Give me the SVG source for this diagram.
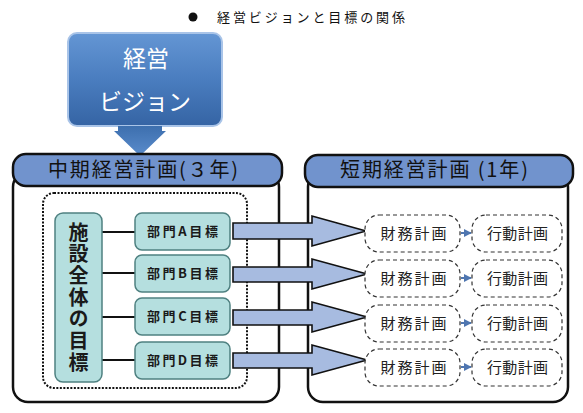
<svg xmlns="http://www.w3.org/2000/svg" width="583" height="413" viewBox="0 0 583 413">
<defs>
<linearGradient id="gv" x1="0" y1="0" x2="0" y2="1">
<stop offset="0" stop-color="#6496d4"/>
<stop offset="0.5" stop-color="#4a7dbf"/>
<stop offset="1" stop-color="#3564a4"/>
</linearGradient>
<linearGradient id="ga" x1="0" y1="0" x2="0" y2="1">
<stop offset="0" stop-color="#3d6fae"/>
<stop offset="1" stop-color="#5a8ccc"/>
</linearGradient>
<marker id="sm" viewBox="0 0 10 10" refX="9" refY="5" markerWidth="4" markerHeight="4" orient="auto">
<path d="M0,0 L10,5 L0,10 z" fill="#4f76b0"/>
</marker>
<style>
text{font-family:"Noto Sans CJK JP","Noto Sans",sans-serif;}
.hdr{fill:#7193cd;stroke:#111;stroke-width:2.5;}
.outer{fill:#fff;stroke:#111;stroke-width:2.5;}
.dept{fill:#b5dfdf;stroke:#4f8181;stroke-width:1.5;}
.dtxt{font-size:13px;font-weight:bold;fill:#1a1a1a;text-anchor:middle;}
.big{fill:#a7bbe0;stroke:#111;stroke-width:1.6;stroke-linejoin:miter;}
.plan{fill:#fff;stroke:#333;stroke-width:1.2;stroke-dasharray:4 3;}
.ptxt{font-size:15px;fill:#222;text-anchor:middle;}
.link{stroke:#111;stroke-width:2;}
.sarr{stroke:#4f76b0;stroke-width:2;marker-end:url(#sm);}
</style>
</defs>
<rect width="583" height="413" fill="#fff"/>

<g id="title">
<circle cx="193" cy="17" r="4.5" fill="#111"/>
<text x="217" y="22" font-size="13" fill="#111" textLength="188" lengthAdjust="spacing">経営ビジョンと目標の関係</text>
</g>

<g id="vision">
<rect x="68" y="33" width="154" height="93" rx="9" fill="url(#gv)" stroke="#a9c4e8" stroke-width="2"/>
<text x="146" y="67" font-size="23" fill="#fff" text-anchor="middle">経営</text>
<text x="145" y="110" font-size="23" fill="#fff" text-anchor="middle">ビジョン</text>
</g>

<g id="vision-arrow">
<polygon points="118,126 162,126 162,131 166,131 140,156 114,131 118,131" fill="url(#ga)"/>
</g>

<g id="mid-plan">
<rect class="outer" x="13" y="172" width="266" height="230" rx="15"/>
<rect class="hdr" x="13" y="154" width="269" height="32" rx="13"/>
<text x="48" y="177" font-size="20" fill="#111" textLength="190" lengthAdjust="spacing">中期経営計画(３年)</text>
</g>

<g id="short-plan">
<rect class="outer" x="308" y="172" width="260" height="230" rx="15"/>
<rect class="hdr" x="305" y="155" width="268" height="32" rx="13"/>
<text x="340" y="177" font-size="20" fill="#111" textLength="188" lengthAdjust="spacing">短期経営計画 (1年)</text>
</g>

<g id="dotted-frame">
<rect x="43" y="193" width="204" height="195" rx="11" fill="none" stroke="#111" stroke-width="2" stroke-dasharray="2 1.5"/>
</g>

<g id="connectors">
<line class="link" x1="102" y1="232" x2="135" y2="232"/>
<line class="link" x1="102" y1="273" x2="135" y2="273"/>
<line class="link" x1="102" y1="317" x2="135" y2="317"/>
<line class="link" x1="102" y1="360" x2="135" y2="360"/>
<polygon class="big" points="233,223 312,223 312,216 366,231 312,246 312,239 233,239"/>
<polygon class="big" points="233,267 312,267 312,259 367,274 312,289 312,282 233,282"/>
<polygon class="big" points="233,310 312,310 312,302 367,317 312,332 312,325 233,325"/>
<polygon class="big" points="233,353 312,353 312,345 367,360 312,375 312,368 233,368"/>
<line class="sarr" x1="461" y1="233" x2="471" y2="233"/>
<line class="sarr" x1="461" y1="278" x2="471" y2="278"/>
<line class="sarr" x1="461" y1="323" x2="471" y2="323"/>
<line class="sarr" x1="461" y1="367" x2="471" y2="367"/>
</g>

<g id="goal">
<rect class="dept" x="55" y="213" width="47" height="169" rx="8"/>
<text x="78.5" y="222" font-size="20" font-weight="bold" fill="#1a1a1a" writing-mode="vertical-rl" letter-spacing="1.7">施設全体の目標</text>
</g>

<g id="deptA"><rect class="dept" x="135" y="213" width="95" height="37" rx="7"/><text class="dtxt" x="182.5" y="236" textLength="71" lengthAdjust="spacing">部門A目標</text></g>
<g id="deptB"><rect class="dept" x="135" y="255" width="95" height="37" rx="7"/><text class="dtxt" x="182.5" y="278" textLength="71" lengthAdjust="spacing">部門B目標</text></g>
<g id="deptC"><rect class="dept" x="135" y="298" width="95" height="37" rx="7"/><text class="dtxt" x="182.5" y="321" textLength="71" lengthAdjust="spacing">部門C目標</text></g>
<g id="deptD"><rect class="dept" x="135" y="342" width="95" height="37" rx="7"/><text class="dtxt" x="182.5" y="365" textLength="71" lengthAdjust="spacing">部門D目標</text></g>

<g id="fin1"><rect class="plan" x="365" y="215" width="95" height="37" rx="14"/><text class="ptxt" x="413.5" y="238.5" textLength="66" lengthAdjust="spacing">財務計画</text></g>
<g id="act1"><rect class="plan" x="472" y="215" width="90" height="37" rx="14"/><text class="ptxt" x="517.5" y="238.5" textLength="61" lengthAdjust="spacing">行動計画</text></g>
<g id="fin2"><rect class="plan" x="365" y="260" width="95" height="37" rx="14"/><text class="ptxt" x="413.5" y="283.5" textLength="66" lengthAdjust="spacing">財務計画</text></g>
<g id="act2"><rect class="plan" x="472" y="260" width="90" height="37" rx="14"/><text class="ptxt" x="517.5" y="283.5" textLength="61" lengthAdjust="spacing">行動計画</text></g>
<g id="fin3"><rect class="plan" x="365" y="305" width="95" height="37" rx="14"/><text class="ptxt" x="413.5" y="328.5" textLength="66" lengthAdjust="spacing">財務計画</text></g>
<g id="act3"><rect class="plan" x="472" y="305" width="90" height="37" rx="14"/><text class="ptxt" x="517.5" y="328.5" textLength="61" lengthAdjust="spacing">行動計画</text></g>
<g id="fin4"><rect class="plan" x="365" y="349" width="95" height="37" rx="14"/><text class="ptxt" x="413.5" y="372.5" textLength="66" lengthAdjust="spacing">財務計画</text></g>
<g id="act4"><rect class="plan" x="472" y="349" width="90" height="37" rx="14"/><text class="ptxt" x="517.5" y="372.5" textLength="61" lengthAdjust="spacing">行動計画</text></g>
</svg>
